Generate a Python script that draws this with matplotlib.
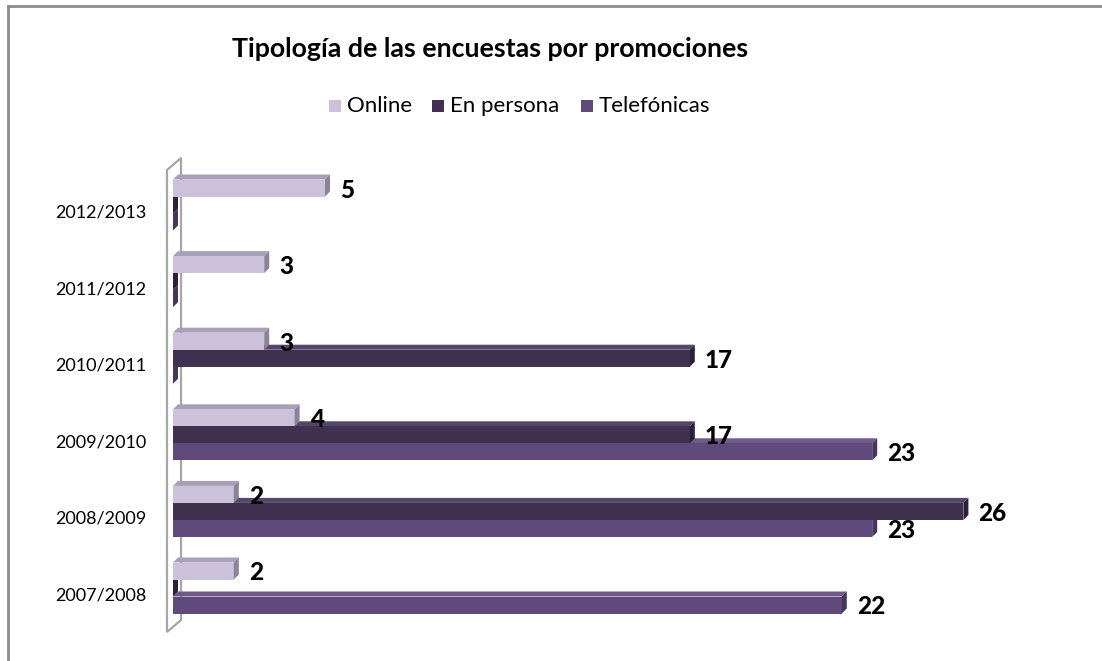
import os
import matplotlib
matplotlib.use("Agg")
import matplotlib.pyplot as plt
from matplotlib import font_manager as fm
from matplotlib.patches import Polygon, Rectangle
from matplotlib.lines import Line2D
from matplotlib.transforms import ScaledTranslation

categories = ["2007/2008", "2008/2009", "2009/2010", "2010/2011", "2011/2012", "2012/2013"]
series_names = ["Online", "En persona", "Telefónicas"]
online = [2, 2, 4, 3, 3, 5]
en_persona = [0, 26, 17, 17, 0, 0]
telefonicas = [22, 23, 23, 0, 0, 0]
title = "Tipología de las encuestas por promociones"

front_colors = ["#CCC1DA", "#403151", "#604A7B"]
top_colors = ["#A8A0B6", "#55476A", "#6E5A88"]
side_colors = ["#8B8398", "#2C2238", "#463759"]


def find_font(*bases):
    for base in bases:
        for f in fm.fontManager.ttflist:
            if os.path.basename(f.fname).lower().startswith(base.lower()):
                return f.fname
    return None


reg_file = find_font("Lato-Regular.")
bold_file = find_font("Lato-Bold.")
heavy_file = find_font("Lato-Heavy.", "Lato-Black.", "Lato-Bold.")


def fp(size, kind="regular"):
    f = {"regular": reg_file, "bold": bold_file, "heavy": heavy_file}[kind]
    if f:
        return fm.FontProperties(fname=f, size=size)
    return fm.FontProperties(family=["Lato", "DejaVu Sans"], size=size,
                             weight="normal" if kind == "regular" else "bold")


W, H = 1102, 661
fig = plt.figure(figsize=(W / 100, H / 100), dpi=100)

# axes geometry (pixels)
x0_px, unit_px = 173, 30.4
xmax = 30
ax_top_px, ax_bot_px = 150, 640
c0_px, step_px = 588, 76.6
ax = fig.add_axes([x0_px / W, (H - ax_bot_px) / H, xmax * unit_px / W, (ax_bot_px - ax_top_px) / H])
ax.set_xlim(0, xmax)
ylo = -(ax_bot_px - c0_px) / step_px
yhi = (c0_px - ax_top_px) / step_px
ax.set_ylim(ylo, yhi)
for s in ax.spines.values():
    s.set_visible(False)
ax.set_xticks([])


def px2data(px, py):
    return (px - x0_px) / unit_px, (c0_px - py) / step_px


# back wall outline
wall_pts = [px2data(167, 170), px2data(181, 158), px2data(181, 620), px2data(167, 632)]
wall = Polygon(wall_pts, closed=True, facecolor="white", edgecolor="#A6A6A6", lw=1.6,
               zorder=1, clip_on=False)
ax.add_patch(wall)

bh = 17 / step_px
dx = 5 / unit_px
dy = 5 / step_px
offsets = [bh, 0, -bh]
data = [online, en_persona, telefonicas]

for si in [2, 1, 0]:
    vals = data[si]
    for i, v in enumerate(vals):
        yc = i + offsets[si]
        b, t = yc - bh / 2, yc + bh / 2
        z = 3 + (2 - si)
        if v > 0:
            ax.barh(yc, v, height=bh, color=front_colors[si], edgecolor="none", zorder=z)
            top = Polygon([(0, t), (v, t), (v + dx, t + dy), (dx, t + dy)], closed=True,
                          facecolor=top_colors[si], edgecolor="none", zorder=z - 0.5)
            ax.add_patch(top)
        side = Polygon([(v, b), (v, t), (v + dx, t + dy), (v + dx, b + dy)], closed=True,
                       facecolor=side_colors[si], edgecolor="none", zorder=z)
        ax.add_patch(side)
        if v > 0:
            ax.text(v + 15 / unit_px, yc - 2 / step_px, str(v), ha="left", va="center",
                    fontproperties=fp(17.5, "heavy"), color="black", zorder=10)

ax.set_yticks(range(len(categories)))
ax.set_yticklabels(categories, fontproperties=fp(13))
ax.tick_params(axis="y", length=0, pad=19)
for lab in ax.get_yticklabels():
    lab.set_transform(lab.get_transform() + ScaledTranslation(0, -6 / 100, fig.dpi_scale_trans))

# title
fig.text(490 / W, 1 - 49 / H, title, ha="center", va="center", fontproperties=fp(19.3, "bold"))

# legend (manual)
leg_y = 106
leg_items = [(329, series_names[0], front_colors[0]),
             (432, series_names[1], front_colors[1]),
             (581, series_names[2], front_colors[2])]
for xp, name, col in leg_items:
    fig.patches.append(Rectangle((xp / W, 1 - (leg_y + 6) / H), 12 / W, 12 / H,
                                 transform=fig.transFigure, facecolor=col, edgecolor="none"))
    fig.text((xp + 18) / W, 1 - leg_y / H, name, ha="left", va="center", fontproperties=fp(16))

# chart border (top and left visible)
fig.add_artist(Line2D([8 / W, 8 / W], [1 - 6 / H, 0], transform=fig.transFigure,
                      color="#8C8C8C", lw=2))
fig.add_artist(Line2D([8 / W, 1], [1 - 6 / H, 1 - 6 / H], transform=fig.transFigure,
                      color="#8C8C8C", lw=2))

fig.savefig("out.png", dpi=100, facecolor="white")
